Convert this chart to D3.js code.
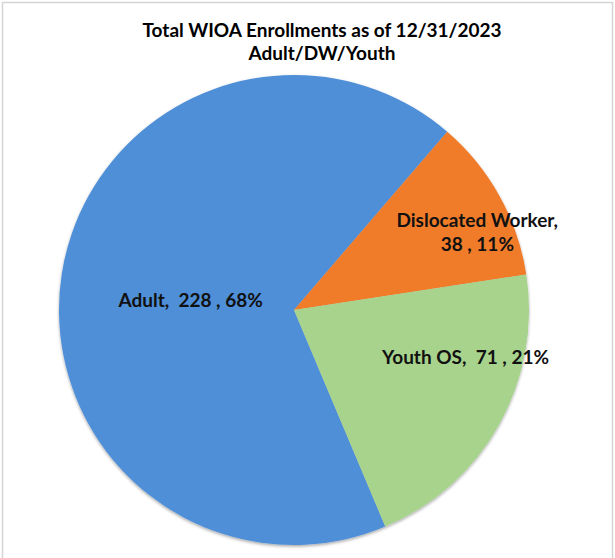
<!DOCTYPE html>
<html><head><meta charset="utf-8">
<script src="https://cdn.jsdelivr.net/npm/d3@7"></script>
<style>body{margin:0;background:#fff}svg{display:block}</style>
</head><body>
<svg id="chart" width="615" height="558"></svg>
<script>
const categories = ["Adult", "Dislocated Worker", "Youth OS"];
const values = [228, 38, 71];
const percents = ["68%", "11%", "21%"];
const titleLines = ["Total WIOA Enrollments as of 12/31/2023", "Adult/DW/Youth"];

const colors = ["#4F8FD8", "#F07B2A", "#A7D38C"];
// label layout: position of label centre relative to pie centre, in units of radius
const labelLayout = [
  {dx: -0.44, dy: -0.04, lines: d => [`${d.cat},  ${d.val} , ${d.pct}`]},
  {dx: 0.78, dy: -0.33, lines: d => [`${d.cat},`, `${d.val} , ${d.pct}`]},
  {dx: 0.73, dy: 0.20, lines: d => [`${d.cat},  ${d.val} , ${d.pct}`]}
];

const svg = d3.select("#chart");
svg.append("rect").attr("x", 2.5).attr("y", 2.5).attr("width", 610).attr("height", 560)
  .attr("fill", "#fff").attr("stroke", "#d4d4d4").attr("stroke-width", 1.5);

const cx = 294, cy = 310, r = 235;
const data = categories.map((c, i) => ({cat: c, val: values[i], pct: percents[i], color: colors[i]}));
const total = d3.sum(values);
// first slice (Adult) ends where Dislocated Worker begins (~40.7deg from north)
const dwStart = 40.7 * Math.PI / 180;
const start = dwStart - values[0] / total * 2 * Math.PI;
const pie = d3.pie().value(d => d.val).sort(null).startAngle(start).endAngle(start + 2 * Math.PI);
const arc = d3.arc().innerRadius(0).outerRadius(r);

const defs = svg.append("defs");
const f = defs.append("filter").attr("id", "sh").attr("x", "-10%").attr("y", "-10%").attr("width", "120%").attr("height", "120%");
f.append("feDropShadow").attr("dx", 0).attr("dy", 1.5).attr("stdDeviation", 1.5).attr("flood-color", "#000").attr("flood-opacity", 0.35);

const g = svg.append("g").attr("transform", `translate(${cx},${cy})`);
g.append("g").attr("filter", "url(#sh)").selectAll("path").data(pie(data)).join("path")
  .attr("d", arc).attr("fill", d => d.data.color);

const fontFam = "Lato, 'Open Sans', 'DejaVu Sans', sans-serif";
svg.append("g").selectAll("text").data(titleLines).join("text")
  .attr("x", 322).attr("y", (d, i) => 37 + i * 23)
  .attr("text-anchor", "middle").attr("font-family", fontFam).attr("font-weight", "bold")
  .attr("font-size", 19).attr("fill", "#000").text(d => d);

const lg = g.append("g");
pie(data).forEach((p, i) => {
  const L = labelLayout[i];
  const lines = L.lines(p.data);
  const t = lg.append("text").attr("text-anchor", "middle").attr("font-family", fontFam)
    .attr("font-weight", "bold").attr("font-size", 19).attr("fill", "#111");
  const x = L.dx * r, y = L.dy * r;
  lines.forEach((ln, j) => {
    t.append("tspan").attr("x", x).attr("y", y + (j - (lines.length - 1) / 2) * 24 + 6.5)
      .attr("xml:space", "preserve").style("white-space", "pre").text(ln);
  });
});
</script>
</body></html>
